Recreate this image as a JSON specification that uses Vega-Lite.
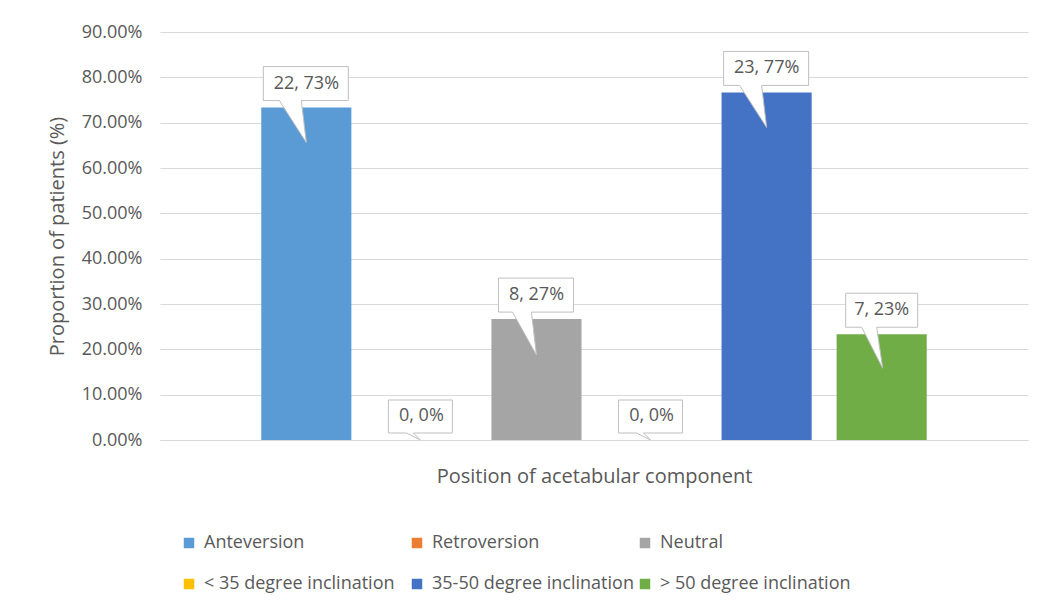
{
  "$schema": "https://vega.github.io/schema/vega-lite/v6.json",
  "width": 868,
  "height": 408,
  "autosize": {"type": "none"},
  "padding": {"left": 160, "top": 32, "right": 29, "bottom": 170},
  "background": "white",
  "config": {"view": {"stroke": null}, "font": "Open Sans"},
  "data": {
    "values": [
      {"position": "Anteversion", "count": 22, "proportion": 0.7333, "label": "22, 73%"},
      {"position": "Retroversion", "count": 0, "proportion": 0, "label": "0, 0%"},
      {"position": "Neutral", "count": 8, "proportion": 0.2667, "label": "8, 27%"},
      {"position": "< 35 degree inclination", "count": 0, "proportion": 0, "label": "0, 0%"},
      {"position": "35-50 degree inclination", "count": 23, "proportion": 0.7667, "label": "23, 77%"},
      {"position": "> 50 degree inclination", "count": 7, "proportion": 0.2333, "label": "7, 23%"}
    ]
  },
  "encoding": {
    "x": {
      "field": "position",
      "type": "nominal",
      "sort": ["Anteversion", "Retroversion", "Neutral", "< 35 degree inclination", "35-50 degree inclination", "> 50 degree inclination"],
      "scale": {"paddingInner": 0.217, "paddingOuter": 0.88},
      "axis": {
        "labels": false,
        "ticks": false,
        "domain": true,
        "domainColor": "#D9D9D9",
        "grid": false,
        "title": "Position of acetabular component",
        "titlePadding": 26,
        "titleFontSize": 20,
        "titleFontWeight": "normal",
        "titleColor": "#595959"
      }
    },
    "y": {
      "field": "proportion",
      "type": "quantitative",
      "scale": {"domain": [0, 0.9], "nice": false},
      "axis": {
        "values": [0, 0.1, 0.2, 0.3, 0.4, 0.5, 0.6, 0.7, 0.8, 0.9],
        "format": ".2%",
        "grid": true,
        "gridColor": "#D9D9D9",
        "domain": false,
        "ticks": false,
        "labelPadding": 18,
        "labelFontSize": 18,
        "labelColor": "#595959",
        "title": "Proportion of patients (%)",
        "titleFontSize": 20,
        "titleFontWeight": "normal",
        "titleColor": "#595959",
        "titlePadding": 14
      }
    }
  },
  "layer": [
    {
      "mark": {"type": "bar"},
      "encoding": {
        "color": {
          "field": "position",
          "type": "nominal",
          "scale": {
            "domain": ["Anteversion", "Retroversion", "Neutral", "< 35 degree inclination", "35-50 degree inclination", "> 50 degree inclination"],
            "range": ["#5B9BD5", "#ED7D31", "#A5A5A5", "#FFC000", "#4472C4", "#70AD47"]
          },
          "legend": {
            "orient": "none",
            "legendX": 20,
            "legendY": 502,
            "direction": "horizontal",
            "columns": 3,
            "gridAlign": "all",
            "columnPadding": 2,
            "rowPadding": 23,
            "title": null,
            "symbolType": "square",
            "symbolSize": 110,
            "symbolStrokeWidth": 0,
            "labelFontSize": 18,
            "labelColor": "#595959",
            "labelOffset": 6,
            "labelLimit": 400,
            "padding": 0
          }
        }
      }
    },
    {
      "mark": {
        "type": "point",
        "filled": true,
        "fill": "white",
        "stroke": "#BFBFBF",
        "strokeWidth": 1,
        "opacity": 1,
        "size": 10000
      },
      "encoding": {
        "shape": {
          "condition": [
            {"test": "datum.count == 0", "value": "M -0.66 -0.8 L 0.62 -0.8 L 0.62 -0.14 L -0.16 -0.14 L -0.02 0 L -0.3 -0.14 L -0.66 -0.14 Z"},
            {"test": "datum.count >= 10", "value": "M -0.86 -0.82 L 0.84 -0.82 L 0.84 -0.14 L -0.1 -0.14 L 0 0.7 L -0.54 -0.14 L -0.86 -0.14 Z"},
            {"test": "datum.count == 8", "value": "M -0.76 -0.82 L 0.74 -0.82 L 0.74 -0.14 L -0.1 -0.14 L 0 0.72 L -0.48 -0.14 L -0.76 -0.14 Z"}
          ],
          "value": "M -0.72 -0.82 L 0.72 -0.82 L 0.72 -0.14 L -0.1 -0.14 L 0.02 0.68 L -0.4 -0.14 L -0.72 -0.14 Z"
        }
      }
    },
    {
      "mark": {"type": "text", "dy": -24, "fontSize": 18, "color": "#595959", "align": "center", "baseline": "middle"},
      "encoding": {"text": {"field": "label"}}
    }
  ]
}
